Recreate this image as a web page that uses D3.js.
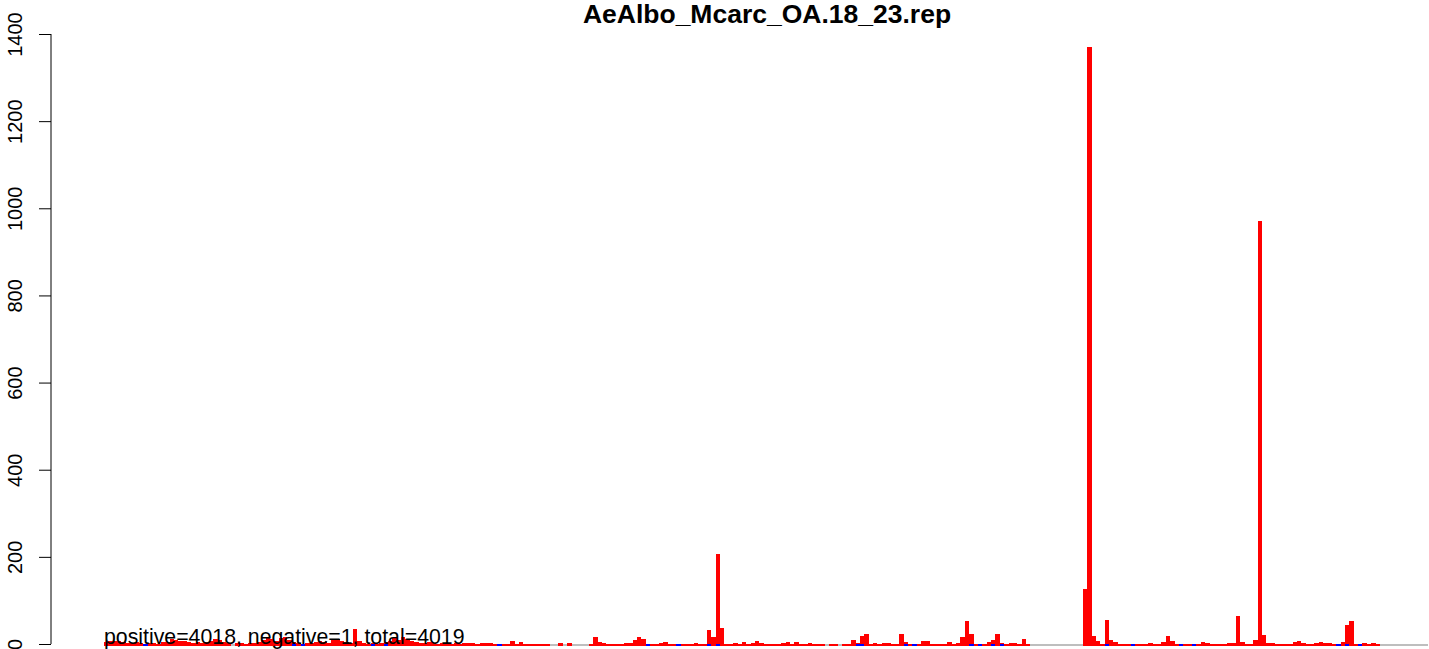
<!DOCTYPE html>
<html lang="en">
  <head>
    <meta charset="UTF-8">
    <title>AeAlbo_Mcarc_OA.18_23.rep</title>
    <script src="https://d3js.org/d3.v7.min.js"></script>
    <style>
      body { margin: 0; background-color: white; }
      svg text { font-family: "Liberation Sans", Arial, Helvetica, sans-serif; }
    </style>
  </head>
  <body>
    <script>
      const chartTitle = "AeAlbo_Mcarc_OA.18_23.rep";
      const summary = "positive=4018, negative=1, total=4019";
      const yTicks = [0, 200, 400, 600, 800, 1000, 1200, 1400];

      // counts per bin (red bars)
      const posCounts = [
        4, 8, 6, 7, 5, 3, 2, 4, 2, 1,
        2, 3, 1, 4, 5, 11, 9, 7, 6, 4,
        3, 5, 2, 4, 6, 11, 10, 4, 2, 0,
        2, 3, 1, 3, 2, 4, 9, 14, 12, 8,
        13, 15, 10, 5, 3, 1, 3, 2, 4, 6,
        5, 3, 10, 12, 8, 5, 3, 34, 6, 3,
        1, 2, 1, 3, 5, 8, 13, 10, 17, 12,
        6, 4, 3, 2, 5, 2, 1, 3, 2, 1,
        2, 1, 3, 2, 3, 1, 2, 3, 2, 1,
        1, 1, 1, 8, 1, 4, 1, 1, 1, 1,
        1, 1, 0, 0, 2, 0, 2, 0, 0, 0,
        0, 1, 15, 5, 3, 1, 1, 1, 1, 3,
        3, 10, 17, 12, 1, 1, 1, 3, 5, 1,
        1, 1, 1, 1, 1, 3, 1, 1, 33, 15,
        206, 36, 1, 1, 3, 1, 5, 1, 3, 8,
        3, 1, 1, 1, 1, 3, 5, 1, 5, 1,
        1, 3, 1, 1, 1, 0, 1, 1, 0, 1,
        1, 10, 3, 19, 22, 1, 3, 1, 3, 3,
        1, 1, 22, 5, 1, 1, 1, 8, 8, 1,
        1, 1, 1, 5, 1, 3, 15, 52, 24, 1,
        1, 1, 5, 10, 22, 3, 1, 3, 3, 1,
        12, 1, 0, 0, 0, 0, 0, 0, 0, 0,
        0, 0, 0, 0, 127, 1370, 18, 8, 1, 56,
        10, 5, 1, 1, 1, 1, 1, 1, 1, 3,
        1, 1, 5, 18, 8, 1, 1, 1, 1, 1,
        1, 5, 3, 1, 1, 1, 1, 3, 3, 64,
        5, 1, 1, 10, 970, 21, 3, 3, 1, 1,
        1, 1, 5, 8, 3, 1, 1, 3, 5, 3,
        3, 1, 1, 5, 44, 53, 1, 1, 3, 1,
        3, 1, 0, 0, 0, 0, 0, 0, 0, 0,
        0, 0, 0
      ];

      // negative counts per bin (blue, drawn below the axis line)
      const negCounts = [
        0, 0, 0, 0, 0, 0, 0, 0, 0, 1,
        0, 0, 0, 0, 0, 0, 0, 0, 0, 0,
        0, 0, 0, 0, 0, 0, 0, 0, 0, 0,
        0, 0, 0, 0, 0, 0, 0, 0, 0, 0,
        0, 0, 0, 1, 0, 1, 0, 0, 0, 0,
        0, 0, 0, 0, 0, 0, 0, 0, 0, 0,
        0, 1, 0, 0, 1, 0, 0, 0, 0, 0,
        0, 0, 0, 0, 0, 0, 0, 0, 0, 0,
        0, 0, 0, 0, 0, 0, 0, 0, 0, 0,
        1, 0, 0, 0, 0, 0, 0, 0, 0, 0,
        0, 0, 0, 0, 0, 0, 0, 0, 0, 0,
        0, 0, 0, 0, 0, 0, 0, 0, 0, 0,
        0, 0, 0, 0, 1, 0, 0, 0, 0, 0,
        0, 1, 0, 0, 0, 0, 0, 0, 1, 0,
        1, 0, 0, 0, 0, 0, 0, 0, 0, 0,
        0, 0, 0, 0, 0, 0, 0, 0, 0, 0,
        0, 0, 0, 0, 0, 0, 0, 0, 0, 0,
        0, 0, 1, 1, 0, 0, 0, 0, 0, 0,
        0, 0, 0, 1, 0, 1, 0, 0, 0, 0,
        0, 0, 0, 0, 0, 0, 0, 0, 1, 0,
        1, 0, 0, 1, 0, 1, 0, 0, 0, 0,
        0, 0, 0, 0, 0, 0, 0, 0, 0, 0,
        0, 0, 0, 0, 0, 0, 0, 0, 0, 1,
        0, 0, 0, 0, 0, 1, 0, 0, 0, 0,
        0, 0, 0, 0, 0, 0, 1, 0, 0, 1,
        0, 0, 0, 0, 0, 0, 0, 0, 0, 0,
        0, 0, 0, 0, 0, 0, 0, 0, 0, 0,
        0, 0, 0, 0, 0, 0, 0, 0, 0, 0,
        0, 0, 1, 0, 1, 0, 0, 1, 0, 0,
        0, 0, 0, 0, 0, 0, 0, 0, 0, 0,
        0, 0, 0
      ];

      const w = 1429;
      const h = 649;
      const plotLeft = 51;
      const plotRight = 1481;   // plot region runs past the right edge of the picture
      const n = posCounts.length;
      const minH = 1.5;         // tiny counts still show as a thin line

      const svg = d3.select("body")
                    .append("svg")
                    .attr("width", w)
                    .attr("height", h)
                    .style("background-color", "white");

      // R style: xlim 0..n widened by 4% each side
      const xScale = d3.scaleLinear()
                       .domain([-0.04 * n, 1.04 * n])
                       .range([plotLeft, plotRight]);

      const yScale = d3.scaleLinear()
                       .domain([0, 1400])
                       .range([644, 34]);

      const bins = posCounts.map((d, i) => ({i: i, pos: d, neg: negCounts[i]}));
      const y0 = yScale(0);

      // empty bins: grey line
      svg.append("g")
         .selectAll("rect")
         .data(bins.filter(d => d.pos === 0 && d.neg === 0))
         .enter()
         .append("rect")
         .attr("x", d => xScale(d.i))
         .attr("width", d => xScale(d.i + 1) - xScale(d.i))
         .attr("y", y0)
         .attr("height", minH)
         .attr("shape-rendering", "crispEdges")
         .style("fill", "#bebebe");

      svg.append("g")
         .selectAll("rect")
         .data(bins.filter(d => d.pos > 0))
         .enter()
         .append("rect")
         .attr("x", d => xScale(d.i))
         .attr("width", d => xScale(d.i + 1) - xScale(d.i))
         .attr("y", d => Math.min(yScale(d.pos), y0))
         .attr("height", d => y0 - Math.min(yScale(d.pos), y0) + minH)
         .attr("shape-rendering", "crispEdges")
         .style("fill", "#ff0000");

      svg.append("g")
         .selectAll("rect")
         .data(bins.filter(d => d.neg > 0))
         .enter()
         .append("rect")
         .attr("x", d => xScale(d.i))
         .attr("width", d => xScale(d.i + 1) - xScale(d.i))
         .attr("y", y0)
         .attr("height", d => Math.max(yScale(0) - yScale(d.neg), minH))
         .attr("shape-rendering", "crispEdges")
         .style("fill", "#0000ff");

      // y axis, R look: rotated labels, ticks outward
      const yAxis = d3.axisLeft(yScale)
                      .tickValues(yTicks)
                      .tickSize(12)
                      .tickPadding(0)
                      .tickFormat(d3.format("d"));

      const ax = svg.append("g")
                    .attr("transform", `translate(${plotLeft},0)`)
                    .call(yAxis);

      ax.select(".domain")
        .attr("d", `M0,${yScale(1400)}V${yScale(0)}`)
        .attr("stroke", "black");
      ax.selectAll(".tick line").attr("stroke", "black");
      ax.selectAll(".tick text")
        .attr("x", null)
        .attr("dy", null)
        .attr("transform", "translate(-29,0) rotate(-90)")
        .style("text-anchor", "middle")
        .style("font-size", "20px")
        .style("fill", "black");

      svg.append("text")
         .attr("x", (plotLeft + plotRight) / 2 + 1)
         .attr("y", 23)
         .style("text-anchor", "middle")
         .style("font-size", "26.5px")
         .style("font-weight", "bold")
         .text(chartTitle);

      svg.append("text")
         .attr("x", xScale(0))
         .attr("y", 643.5)
         .style("font-size", "21.3px")
         .text(summary);
    </script>
  </body>
</html>
